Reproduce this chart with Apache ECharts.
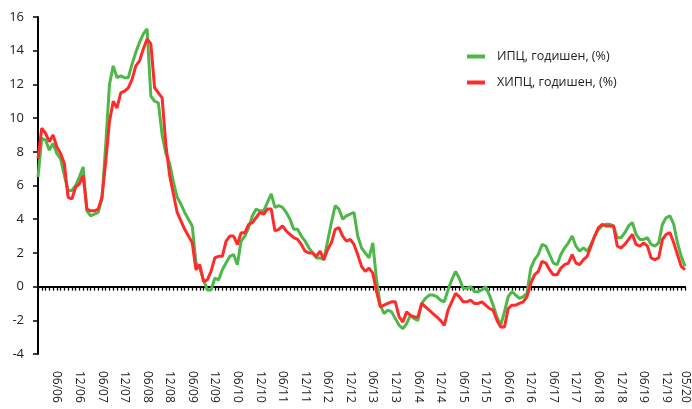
<!DOCTYPE html>
<html>
<head>
<meta charset="utf-8">
<script src="https://cdn.jsdelivr.net/npm/echarts@6/dist/echarts.min.js"></script>
<style>
  html, body { margin: 0; padding: 0; background: #fff; }
  #chart { width: 692px; height: 409px; }
</style>
</head>
<body>
<div id="chart"></div>
<script>
// months 01/06 .. 05/20
let months = []
for (let y = 6; y <= 20; y++) {
    for (let m = 1; m <= 12; m++) {
        if (y === 20 && m > 5) break
        months.push(String(m).padStart(2, '0') + '/' + String(y).padStart(2, '0'))
    }
}

let seriesNames = ['ИПЦ, годишен, (%)', 'ХИПЦ, годишен, (%)']

// ИПЦ (CPI), annual %, monthly
let cpi = [
    6.5, 8.8, 8.7, 8.1, 8.5, 7.9, 7.6, 6.6, 5.7, 5.7, 6.0, 6.5,
    7.1, 4.5, 4.2, 4.3, 4.4, 5.2, 8.4, 12.0, 13.1, 12.4, 12.5, 12.4,
    12.4, 13.2, 13.9, 14.5, 15.0, 15.3, 11.3, 11.0, 10.9, 9.0, 7.9, 7.3,
    6.2, 5.3, 4.9, 4.4, 4.0, 3.6, 1.4, 1.1, 0.4, -0.2, -0.2, 0.5,
    0.4, 1.0, 1.4, 1.8, 1.9, 1.3, 2.7, 3.0, 3.5, 4.2, 4.6, 4.5,
    4.5, 5.0, 5.5, 4.7, 4.8, 4.7, 4.4, 4.0, 3.4, 3.4, 3.0, 2.7,
    2.3, 2.0, 1.7, 1.7, 1.6, 2.7, 3.8, 4.8, 4.6, 4.0, 4.2, 4.3,
    4.4, 3.0, 2.3, 2.0, 1.7, 2.6, 0.4, -1.1, -1.6, -1.4, -1.5, -1.9,
    -2.3, -2.5, -2.2, -1.7, -1.9, -2.0, -1.0, -0.7, -0.5, -0.5, -0.6, -0.8,
    -0.9, -0.2, 0.4, 0.9, 0.5, -0.1, -0.1, 0.0, -0.3, -0.3, -0.2, 0.0,
    -0.5, -1.1, -1.8, -2.3, -1.5, -0.6, -0.3, -0.5, -0.7, -0.6, -0.4, 1.1,
    1.6, 1.9, 2.5, 2.4, 1.9, 1.4, 1.3, 1.9, 2.3, 2.6, 3.0, 2.4,
    2.1, 2.3, 2.1, 2.5, 3.0, 3.4, 3.6, 3.7, 3.7, 3.6, 2.9, 2.9,
    3.2, 3.6, 3.8, 3.1, 2.8, 2.8, 2.9, 2.5, 2.4, 2.6, 3.7, 4.1,
    4.2, 3.7, 2.6, 1.8, 1.2
]

// ХИПЦ (HICP), annual %, monthly
let hicp = [
    7.6, 9.4, 9.1, 8.6, 9.0, 8.3, 7.9, 7.3, 5.3, 5.2, 5.9, 6.1,
    6.6, 4.6, 4.5, 4.5, 4.6, 5.3, 7.4, 9.8, 11.0, 10.6, 11.5, 11.6,
    11.8, 12.3, 13.1, 13.4, 14.1, 14.7, 14.4, 11.8, 11.5, 11.2, 8.4, 6.6,
    5.5, 4.4, 3.9, 3.4, 3.0, 2.6, 1.0, 1.3, 0.3, 0.4, 0.9, 1.7,
    1.8, 1.8, 2.7, 3.0, 3.0, 2.5, 3.2, 3.2, 3.7, 3.8, 4.1, 4.4,
    4.3, 4.6, 4.6, 3.3, 3.4, 3.6, 3.3, 3.1, 2.9, 2.8, 2.5, 2.1,
    2.0, 2.0, 1.8, 2.1, 1.6, 2.2, 2.6, 3.4, 3.5, 3.0, 2.7, 2.8,
    2.5, 1.9, 1.2, 0.9, 1.1, 0.8, -0.3, -1.2, -1.1, -1.0, -0.9, -0.9,
    -1.8, -2.1, -1.5, -1.7, -1.8, -1.8, -1.0, -1.2, -1.4, -1.6, -1.8, -2.0,
    -2.3, -1.4, -0.9, -0.4, -0.6, -0.9, -0.9, -0.8, -1.0, -1.0, -0.9, -1.1,
    -1.3, -1.4, -2.0, -2.4, -2.4, -1.3, -1.1, -1.1, -1.0, -0.9, -0.6, 0.2,
    0.7, 0.9, 1.5, 1.4, 1.0, 0.7, 0.7, 1.1, 1.3, 1.4, 1.9, 1.4,
    1.3, 1.6, 1.8, 2.4, 3.0, 3.5, 3.7, 3.6, 3.6, 3.6, 2.4, 2.3,
    2.5, 2.8, 3.1, 2.5, 2.4, 2.6, 2.4, 1.7, 1.6, 1.7, 2.8, 3.1,
    3.2, 2.6, 1.9, 1.2, 1.0
]

let colors = ['#4db848', '#ff2b2b']
let lastIndex = months.length - 1
let fontFamily = '"Open Sans", "Noto Sans", sans-serif'

let chart = echarts.init(document.getElementById('chart'))

let option = {
    animation: false,
    color: colors,
    textStyle: { fontFamily: fontFamily },
    grid: { left: 38, right: 7, top: 17, bottom: 55, containLabel: false, outerBoundsMode: 'none' },
    legend: {
        orient: 'vertical',
        left: 467,
        top: 50,
        padding: 0,
        itemGap: 13,
        itemWidth: 18,
        itemHeight: 4,
        icon: 'rect',
        textStyle: { fontSize: 12.5, color: '#222', padding: [0, 0, 0, 7] },
        data: seriesNames
    },
    xAxis: {
        type: 'category',
        boundaryGap: false,
        data: months,
        axisLine: { onZero: true, lineStyle: { color: '#000', width: 2 } },
        axisTick: { interval: 0, length: 4, lineStyle: { color: '#000', width: 1.3 } },
        axisLabel: {
            interval: function(index, value) {
                return value.startsWith('06/') || value.startsWith('12/') || index === lastIndex
            },
            rotate: -90,
            margin: 17,
            fontSize: 12,
            color: '#222'
        },
        splitLine: { show: false }
    },
    yAxis: {
        type: 'value',
        min: -4,
        max: 16,
        interval: 2,
        axisLine: { show: true, lineStyle: { color: '#000', width: 2 } },
        axisTick: { show: true, length: 5, lineStyle: { color: '#000', width: 1.5 } },
        axisLabel: { fontSize: 13, color: '#222', margin: 14 },
        splitLine: { show: false }
    },
    series: [
        {
            name: seriesNames[0],
            type: 'line',
            data: cpi,
            showSymbol: false,
            symbol: 'none',
            lineStyle: { width: 3, color: colors[0] }
        },
        {
            name: seriesNames[1],
            type: 'line',
            data: hicp,
            showSymbol: false,
            symbol: 'none',
            lineStyle: { width: 3, color: colors[1] }
        }
    ]
}

chart.setOption(option)
</script>
</body>
</html>
